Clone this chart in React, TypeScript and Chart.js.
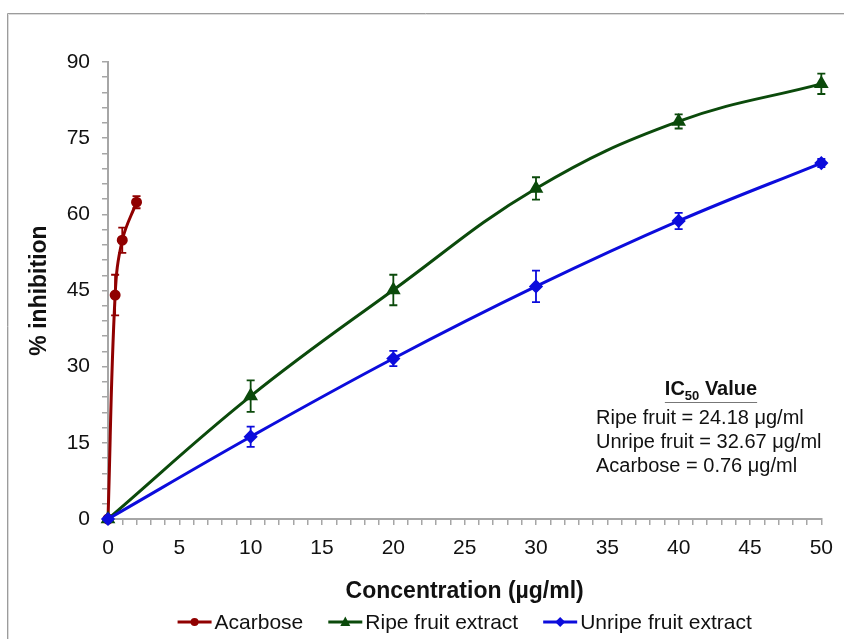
import React, { useEffect, useRef } from 'react';
import { Chart, registerables } from 'chart.js';

Chart.register(...registerables);

// ---- Data ----
const acarboseConc = [0, 0.5, 1, 2];
const acarboseInhib = [0, 44.1, 54.9, 62.4];
const acarboseErr = [0, 4.0, 2.5, 1.2];

const extractConc = [0, 10, 20, 30, 40, 50];
const ripeInhib = [0, 24.2, 45.1, 65.1, 78.3, 85.7];
const ripeErr = [0, 3.1, 3.0, 2.2, 1.4, 2.0];
const unripeInhib = [0, 16.2, 31.6, 45.8, 58.7, 70.1];
const unripeErr = [0, 2.0, 1.5, 3.1, 1.6, 0.8];

const seriesLabels = ['Acarbose', 'Ripe fruit extract', 'Unripe fruit extract'];
const seriesColors = ['#900000', '#0b4a0b', '#0c0cdc'];
const seriesMarkers = ['circle', 'triangle', 'rectRot'];

const xMin = 0;
const xMax = 50;
const xMinorStep = 1;
const xLabelEvery = 5;
const yMin = 0;
const yMax = 90;
const yMinorStep = 3;
const yLabelEvery = 15;

const xTitle = 'Concentration (µg/ml)';
const yTitle = '% inhibition';
const icTitleMain = 'IC';
const icTitleSub = '50';
const icTitleRest = ' Value';
const icLines = [
  'Ripe fruit = 24.18 μg/ml',
  'Unripe fruit = 32.67 μg/ml',
  'Acarbose = 0.76 μg/ml',
];

const FONT = '"Liberation Sans", Arial, sans-serif';
const AXIS_GRAY = '#a6a6a6';
const TEXT = '#111111';

const toPoints = (xs: number[], ys: number[]) => xs.map((x, i) => ({ x, y: ys[i] }));

function drawMarker(ctx: CanvasRenderingContext2D, style: string, x: number, y: number, r: number, color: string) {
  ctx.save();
  ctx.fillStyle = color;
  ctx.strokeStyle = color;
  ctx.beginPath();
  if (style === 'circle') {
    ctx.arc(x, y, r, 0, Math.PI * 2);
  } else if (style === 'triangle') {
    ctx.moveTo(x, y - r * 1.1);
    ctx.lineTo(x + r, y + r * 0.8);
    ctx.lineTo(x - r, y + r * 0.8);
    ctx.closePath();
  } else {
    ctx.moveTo(x, y - r);
    ctx.lineTo(x + r, y);
    ctx.lineTo(x, y + r);
    ctx.lineTo(x - r, y);
    ctx.closePath();
  }
  ctx.fill();
  ctx.restore();
}

const errorBarPlugin = {
  id: 'errorBars',
  beforeDatasetsDraw(chart: any) {
    const ctx: CanvasRenderingContext2D = chart.ctx;
    const yScale = chart.scales.y;
    chart.data.datasets.forEach((ds: any, i: number) => {
      const meta = chart.getDatasetMeta(i);
      const errs: number[] = ds.errors;
      if (!errs) return;
      ctx.save();
      ctx.strokeStyle = ds.borderColor;
      ctx.lineWidth = 1.8;
      meta.data.forEach((pt: any, j: number) => {
        const e = errs[j];
        if (!e) return;
        const v = ds.data[j].y;
        const yT = yScale.getPixelForValue(v + e);
        const yB = yScale.getPixelForValue(v - e);
        const x = pt.x;
        ctx.beginPath();
        ctx.moveTo(x, yT);
        ctx.lineTo(x, yB);
        ctx.moveTo(x - 4, yT);
        ctx.lineTo(x + 4, yT);
        ctx.moveTo(x - 4, yB);
        ctx.lineTo(x + 4, yB);
        ctx.stroke();
      });
      ctx.restore();
    });
  },
};

const decorPlugin = {
  id: 'decor',
  afterDraw(chart: any) {
    const ctx: CanvasRenderingContext2D = chart.ctx;
    const area = chart.chartArea;
    const W = chart.width;
    const H = chart.height;
    ctx.save();

    // outer frame
    ctx.lineWidth = 1;
    ctx.strokeStyle = '#9c9c9c';
    ctx.beginPath();
    ctx.moveTo(7.5, H);
    ctx.lineTo(7.5, 13.5);
    ctx.lineTo(W, 13.5);
    ctx.stroke();
    ctx.strokeStyle = '#dcdcdc';
    ctx.beginPath();
    ctx.moveTo(8.5, H);
    ctx.lineTo(8.5, 14.5);
    ctx.lineTo(W, 14.5);
    ctx.stroke();

    // axis titles
    ctx.fillStyle = TEXT;
    ctx.font = `bold 23px ${FONT}`;
    ctx.textAlign = 'center';
    ctx.textBaseline = 'middle';
    const cx = (area.left + area.right) / 2;
    ctx.fillText(xTitle, cx, 592);
    ctx.save();
    ctx.translate(40, (area.top + area.bottom) / 2);
    ctx.rotate(-Math.PI / 2);
    ctx.fillText(yTitle, 0, 0);
    ctx.restore();

    // IC50 annotation
    ctx.textAlign = 'left';
    ctx.textBaseline = 'alphabetic';
    ctx.font = `bold 20px ${FONT}`;
    const wMain = ctx.measureText(icTitleMain).width;
    const wRest = ctx.measureText(icTitleRest).width;
    ctx.font = `bold 13px ${FONT}`;
    const wSub = ctx.measureText(icTitleSub).width;
    const total = wMain + wSub + wRest;
    const tx = 711 - total / 2;
    const tBase = 395;
    ctx.font = `bold 20px ${FONT}`;
    ctx.fillText(icTitleMain, tx, tBase);
    ctx.font = `bold 13px ${FONT}`;
    ctx.fillText(icTitleSub, tx + wMain, tBase + 5);
    ctx.font = `bold 20px ${FONT}`;
    ctx.fillText(icTitleRest, tx + wMain + wSub, tBase);
    ctx.strokeStyle = '#777777';
    ctx.lineWidth = 1;
    ctx.beginPath();
    ctx.moveTo(tx, 402.5);
    ctx.lineTo(tx + total, 402.5);
    ctx.stroke();
    ctx.font = `20px ${FONT}`;
    icLines.forEach((t, i) => {
      ctx.fillText(t, 596, 424 + i * 24);
    });

    // legend
    ctx.font = `21px ${FONT}`;
    ctx.textBaseline = 'middle';
    const lineLen = 34;
    const gapText = 3;
    const gapItem = 25;
    const widths = seriesLabels.map((l) => ctx.measureText(l).width);
    const legendW = widths.reduce((a, w) => a + lineLen + gapText + w, 0) + gapItem * (seriesLabels.length - 1);
    let lx = cx - legendW / 2;
    const ly = 622;
    seriesLabels.forEach((label, i) => {
      const col = seriesColors[i];
      ctx.strokeStyle = col;
      ctx.lineWidth = 3;
      ctx.beginPath();
      ctx.moveTo(lx, ly);
      ctx.lineTo(lx + lineLen, ly);
      ctx.stroke();
      drawMarker(ctx, seriesMarkers[i], lx + lineLen / 2, ly, i === 0 ? 4 : 5, col);
      ctx.fillStyle = TEXT;
      ctx.fillText(label, lx + lineLen + gapText, ly + 1);
      lx += lineLen + gapText + widths[i] + gapItem;
    });

    ctx.restore();
  },
};

export default function App() {
  const canvasRef = useRef<HTMLCanvasElement | null>(null);

  useEffect(() => {
    if (!canvasRef.current) return;
    Chart.defaults.font.family = FONT;
    const datasets: any[] = [
      {
        label: seriesLabels[0],
        data: toPoints(acarboseConc, acarboseInhib),
        errors: acarboseErr,
        borderColor: seriesColors[0],
        backgroundColor: seriesColors[0],
        pointStyle: seriesMarkers[0],
        pointRadius: 4,
        borderWidth: 3,
        tension: 0.4,
        order: 3,
        clip: false,
      },
      {
        label: seriesLabels[1],
        data: toPoints(extractConc, ripeInhib),
        errors: ripeErr,
        borderColor: seriesColors[1],
        backgroundColor: seriesColors[1],
        pointStyle: seriesMarkers[1],
        pointRadius: 5.5,
        borderWidth: 3,
        tension: 0.4,
        order: 2,
        clip: false,
      },
      {
        label: seriesLabels[2],
        data: toPoints(extractConc, unripeInhib),
        errors: unripeErr,
        borderColor: seriesColors[2],
        backgroundColor: seriesColors[2],
        pointStyle: seriesMarkers[2],
        pointRadius: 5,
        borderWidth: 3,
        tension: 0.4,
        order: 1,
        clip: false,
      },
    ];

    const chart = new Chart(canvasRef.current, {
      type: 'line',
      data: { datasets },
      options: {
        animation: false,
        responsive: false,
        devicePixelRatio: 1,
        parsing: false as any,
        layout: { padding: { top: 62, right: 13, bottom: 0, left: 0 } },
        elements: { point: { borderWidth: 1, hoverRadius: 5 } },
        plugins: {
          legend: { display: false },
          tooltip: { enabled: false },
          title: { display: false },
        },
        scales: {
          x: {
            type: 'linear',
            position: 'bottom',
            min: xMin,
            max: xMax,
            ticks: {
              stepSize: xMinorStep,
              autoSkip: false,
              maxRotation: 0,
              maxTicksLimit: 1000,
              padding: 11,
              color: TEXT,
              font: { size: 21, family: FONT },
              callback: (v: any) => (Number(v) % xLabelEvery === 0 ? String(v) : ''),
            },
            grid: {
              drawOnChartArea: false,
              drawTicks: true,
              tickLength: 6,
              color: AXIS_GRAY,
              lineWidth: 1.5,
            },
            border: { color: AXIS_GRAY, width: 2 },
            afterFit: (s: any) => {
              s.height = 120;
            },
          },
          y: {
            type: 'linear',
            min: yMin,
            max: yMax,
            ticks: {
              stepSize: yMinorStep,
              autoSkip: false,
              maxTicksLimit: 1000,
              padding: 12,
              color: TEXT,
              font: { size: 21, family: FONT },
              callback: (v: any) => (Number(v) % yLabelEvery === 0 ? String(v) : ''),
            },
            grid: {
              drawOnChartArea: false,
              drawTicks: true,
              tickLength: 6,
              color: AXIS_GRAY,
              lineWidth: 1.5,
            },
            border: { color: AXIS_GRAY, width: 2 },
            afterFit: (s: any) => {
              s.width = 108;
            },
          },
        },
      } as any,
      plugins: [errorBarPlugin, decorPlugin],
    });
    return () => chart.destroy();
  }, []);

  return (
    <div style={{ position: 'fixed', left: 0, top: 0, width: 844, height: 639, background: '#ffffff' }}>
      <canvas ref={canvasRef} width={844} height={639} style={{ display: 'block', width: 844, height: 639 }} />
    </div>
  );
}
